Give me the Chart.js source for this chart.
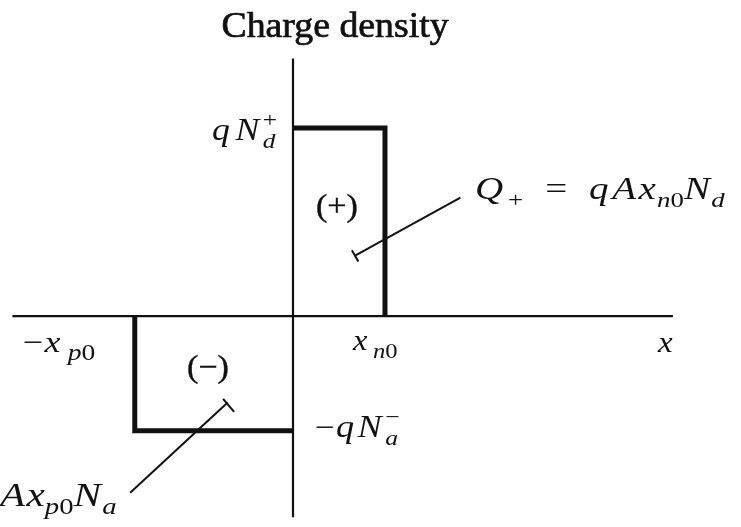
<!DOCTYPE html>
<html>
<head>
<meta charset="utf-8">
<script src="https://cdn.jsdelivr.net/npm/chart.js@4/dist/chart.umd.min.js"></script>
<style>
  html, body { margin: 0; padding: 0; background: #fff; }
  #wrap { width: 741px; height: 527px; position: relative; }
</style>
</head>
<body>
<div id="wrap"><canvas id="chart"></canvas></div>
<script>
// charge density of an abrupt p-n junction (arbitrary units, x_n0 = 1, qNd = 1)
const xn0 = 1.0
const xp0 = 1.72
const qNd = 1.0
const qNa = 0.61

// axis extents and view window
const axisX = [-3.05, 4.13]
const axisY = [-1.07, 1.37]
const viewX = [-3.185, 4.87]
const viewY = [-1.122, 1.681]

// leader lines from the labels to the charge blocks
const upperLeader = [[1.82, 0.63], [0.67, 0.32]]
const upperHook = [[0.64, 0.35], [0.71, 0.29]]
const lowerLeader = [[-1.77, -0.94], [-0.71, -0.46]]
const lowerHook = [[-0.76, -0.44], [-0.64, -0.51]]

const ink = '#111'
const pts = arr => arr.map(p => ({ x: p[0], y: p[1] }))

const line = (data, width) => ({
  data,
  showLine: true,
  borderColor: ink,
  borderWidth: width,
  pointRadius: 0,
  borderJoinStyle: 'miter',
  borderCapStyle: 'butt',
  tension: 0
})

const SERIF = '"Liberation Serif", "DejaVu Serif", serif'
const font = p => `${p.i ? 'italic ' : ''}${p.s}px ${SERIF}`

// rich text: parts {t, i, s, dy, gap} or stacked {sup, sub, isub, s}
function drawRich(ctx, x, y, parts, align, sx, heavy) {
  let w = 0
  parts.forEach(p => {
    ctx.font = font(p)
    if (p.sup !== undefined) {
      p.w = Math.max(ctx.measureText(p.sup).width, ctx.measureText(p.sub).width)
    } else {
      p.w = ctx.measureText(p.t).width
    }
    p.w += p.gap || 0
    w += p.w
  })
  const start = align === 'center' ? -w / 2 : align === 'right' ? -w : 0
  ctx.save()
  ctx.translate(x, y)
  ctx.scale(sx, 1)
  ctx.fillStyle = ink
  ctx.strokeStyle = ink
  ctx.lineWidth = heavy || 0
  ctx.textBaseline = 'alphabetic'
  ctx.textAlign = 'left'
  const put = (t, px, py) => {
    ctx.fillText(t, px, py)
    if (heavy) ctx.strokeText(t, px, py)
  }
  let cx = start
  parts.forEach(p => {
    ctx.font = font(p)
    if (p.sup !== undefined) {
      put(p.sup, cx, -13)
      ctx.font = font({ i: p.isub, s: p.s })
      put(p.sub, cx, 8)
    } else {
      put(p.t, cx, p.dy || 0)
    }
    cx += p.w
  })
  ctx.restore()
}

const labels = [
  { at: [0.457, 1.484], align: 'center', sx: 1.08, heavy: 0.7, parts: [{ t: 'Charge density', s: 35 }] },
  { at: [-0.174, 0.936], align: 'right', sx: 1.15, parts: [
    { t: 'q', i: true, s: 31, gap: 5 }, { t: 'N', i: true, s: 31, gap: 3 },
    { sup: '+', sub: 'd', isub: true, s: 22 }] },
  { at: [0.478, 0.532], align: 'center', sx: 1.1, heavy: 0.4, parts: [{ t: '(+)', s: 31 }] },
  { at: [1.978, 0.622], align: 'left', sx: 1.22, parts: [
    { t: 'Q', i: true, s: 32, gap: 4 }, { t: '+', s: 22, dy: 8, gap: 18 }, { t: '=', s: 32, gap: 18 },
    { t: 'q', i: true, s: 32, gap: 3 }, { t: 'A', i: true, s: 32, gap: 2 }, { t: 'x', i: true, s: 32, gap: 1 },
    { t: 'n', i: true, s: 22, dy: 8 }, { t: '0', s: 22, dy: 8 },
    { t: 'N', i: true, s: 32, gap: 1 }, { t: 'd', i: true, s: 22, dy: 8 }] },
  { at: [-2.935, -0.191], align: 'left', sx: 1.2, parts: [
    { t: '\u2212', s: 30, gap: 1 }, { t: 'x', i: true, s: 30, gap: 6 }, { t: 'p', i: true, s: 23, dy: 8 },
    { t: '0', s: 23, dy: 8 }] },
  { at: [0.652, -0.181], align: 'left', sx: 1.12, parts: [
    { t: 'x', i: true, s: 29, gap: 5 }, { t: 'n', i: true, s: 22, dy: 8 }, { t: '0', s: 22, dy: 8 }] },
  { at: [3.967, -0.191], align: 'left', sx: 1.1, parts: [{ t: 'x', i: true, s: 30 }] },
  { at: [-0.924, -0.324], align: 'center', sx: 1.1, heavy: 0.4, parts: [{ t: '(\u2212)', s: 31 }] },
  { at: [0.239, -0.644], align: 'left', sx: 1.17, parts: [
    { t: '\u2212', s: 30, gap: 1 }, { t: 'q', i: true, s: 31, gap: 3 }, { t: 'N', i: true, s: 31, gap: 3 },
    { sup: '\u2212', sub: 'a', isub: true, s: 22 }] },
  { at: [-3.185, -1.008], align: 'left', sx: 1.25, parts: [
    { t: 'A', i: true, s: 33, gap: 1 }, { t: 'x', i: true, s: 33 }, { t: 'p', i: true, s: 23, dy: 8 },
    { t: '0', s: 23, dy: 8 }, { t: 'N', i: true, s: 33, gap: 1 }, { t: 'a', i: true, s: 23, dy: 8 }] }
]

const labelPlugin = {
  id: 'labels',
  afterDatasetsDraw(chart) {
    const { ctx, scales } = chart
    labels.forEach(l => {
      drawRich(ctx, scales.x.getPixelForValue(l.at[0]), scales.y.getPixelForValue(l.at[1]),
        l.parts, l.align, l.sx, l.heavy)
    })
  }
}

new Chart(document.getElementById('chart'), {
  type: 'scatter',
  data: {
    datasets: [
      line(pts([[axisX[0], 0], [axisX[1], 0]]), 2.2),
      line(pts([[0, axisY[0]], [0, axisY[1]]]), 2.2),
      line(pts([[0, qNd], [xn0, qNd], [xn0, 0]]), 5),
      line(pts([[-xp0, 0], [-xp0, -qNa], [0, -qNa]]), 5),
      line(pts(upperLeader), 2),
      line(pts(upperHook), 2),
      line(pts(lowerLeader), 2),
      line(pts(lowerHook), 2)
    ]
  },
  options: {
    responsive: true,
    maintainAspectRatio: false,
    animation: false,
    layout: { padding: 0 },
    plugins: { legend: { display: false }, tooltip: { enabled: false } },
    scales: {
      x: { type: 'linear', display: false, min: viewX[0], max: viewX[1] },
      y: { type: 'linear', display: false, min: viewY[0], max: viewY[1] }
    }
  },
  plugins: [labelPlugin]
})
</script>
</body>
</html>
